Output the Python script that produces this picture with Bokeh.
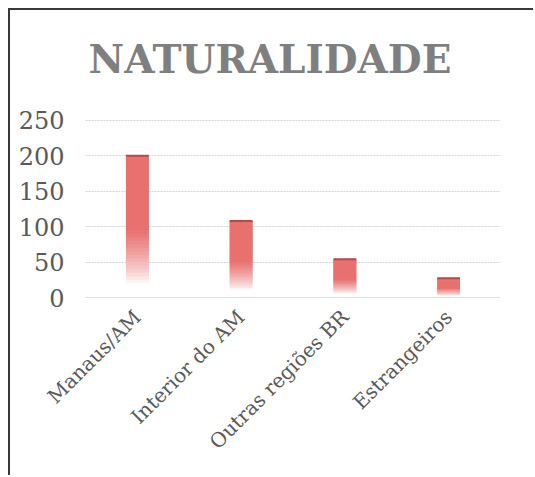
import numpy as np
from bokeh.plotting import figure
from bokeh.models import Range1d, FixedTicker, Label
from bokeh.embed import file_html
from bokeh.resources import INLINE

# ---- data ----
categories = ["Manaus/AM", "Interior do AM", "Outras regiões BR", "Estrangeiros"]
values = [200, 108, 54, 27]
y_ticks = [0, 50, 100, 150, 200, 250]
title_text = "NATURALIDADE"

BAR_W = 0.22
N_SLICES = 40
TOP_RGB = np.array([232, 112, 110])
WHITE = np.array([255, 255, 255])

# the frame extends above the 250 gridline so the title can sit inside it
p = figure(width=525, height=467, output_backend="svg", toolbar_location=None,
           x_range=Range1d(0, len(categories)), y_range=Range1d(0, 405),
           min_border_left=75, min_border_right=35, min_border_bottom=180,
           min_border_top=0)
p.styles = {"margin-left": "8px", "margin-top": "8px",
            "border-left": "2px solid #3a3a3a", "border-top": "2px solid #3a3a3a"}

title = Label(x=0.03, y=336, text=title_text,
              text_font="DejaVu Serif", text_font_style="bold", text_font_size="39px",
              text_color="#7f7f7f", text_align="left", text_baseline="alphabetic")
p.add_layout(title)

p.outline_line_color = None
p.background_fill_color = "white"
p.border_fill_color = "white"

# gradient bars built as horizontal slices
lefts, rights, bottoms, tops, colors = [], [], [], [], []
for i, v in enumerate(values):
    cx = i + 0.5
    edges = np.linspace(0, v, N_SLICES + 1)
    for k in range(N_SLICES):
        t = (edges[k] + edges[k + 1]) / 2 / v
        mix = np.clip((t - 0.1) / 0.38, 0, 1)
        mix = mix ** 0.75
        rgb = (WHITE * (1 - mix) + TOP_RGB * mix).astype(int)
        lefts.append(cx - BAR_W / 2)
        rights.append(cx + BAR_W / 2)
        bottoms.append(edges[k])
        tops.append(min(edges[k + 1] + 0.03 * v, v))
        colors.append("#%02x%02x%02x" % tuple(rgb))
p.quad(left=lefts, right=rights, bottom=bottoms, top=tops,
       fill_color=colors, line_color=None)

xs = [i + 0.5 for i in range(len(values))]
p.segment(x0=[x - BAR_W / 2 for x in xs], x1=[x + BAR_W / 2 for x in xs],
          y0=values, y1=values, line_color="#b34a48", line_width=2)

# axes
p.yaxis.ticker = FixedTicker(ticks=y_ticks)
p.yaxis.axis_line_color = None
p.yaxis.major_tick_line_color = None
p.yaxis.minor_tick_line_color = None
p.yaxis.major_label_text_font = "DejaVu Serif"
p.yaxis.major_label_text_font_size = "24px"
p.yaxis.major_label_text_color = "#595959"
p.yaxis.major_label_standoff = 15

p.xaxis.ticker = FixedTicker(ticks=xs)
p.xaxis.major_label_overrides = {x: c for x, c in zip(xs, categories)}
p.xaxis.axis_line_color = "#e0e0e0"
p.xaxis.major_tick_line_color = None
p.xaxis.minor_tick_line_color = None
p.xaxis.major_label_orientation = np.pi / 4
p.xaxis.major_label_text_font = "DejaVu Serif"
p.xaxis.major_label_text_font_size = "20px"
p.xaxis.major_label_text_color = "#595959"
p.xaxis.major_label_standoff = 10

p.xgrid.grid_line_color = None
p.ygrid.grid_line_color = "#d4d4d4"
p.ygrid.grid_line_dash = "2 1"

open("out.html", "w").write(file_html(p, INLINE))
